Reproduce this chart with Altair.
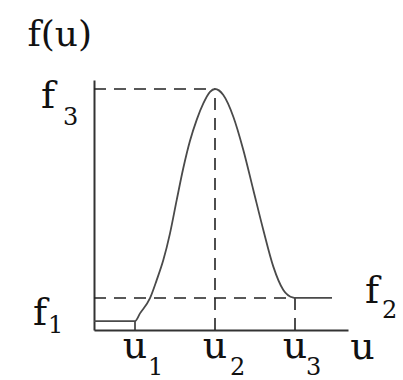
import altair as alt
import pandas as pd

# Landmarks on the u axis and the three levels of f(u)
u_marks = [1.0, 2.0, 3.0]          # u1, u2, u3
u_subs = ["1", "2", "3"]
f_levels = [0.037, 0.133, 1.0]     # f1, f2, f3
f_subs = ["1", "2", "3"]

# Axis extent
u_range = [0.4875, 3.6625]
f_range = [0.0, 1.0373]

# Traced profile of f(u): flat at f1, bump up to f3 at u2, down to f2 at u3, flat after
curve_u = [0.4875, 1.0, 1.0625, 1.1875, 1.271, 1.354, 1.4375, 1.521, 1.604,
           1.6875, 1.771, 1.854, 1.9375, 2.0, 2.104, 2.229, 2.354, 2.479,
           2.604, 2.729, 2.854, 2.979, 3.0, 3.4625]
curve_f = [0.037, 0.037, 0.069, 0.132, 0.207, 0.290, 0.401, 0.539, 0.672,
           0.785, 0.872, 0.940, 0.988, 1.0, 0.975, 0.885, 0.747, 0.581,
           0.415, 0.263, 0.166, 0.134, 0.133, 0.133]

u1, u2, u3 = u_marks
f1, f2, f3 = f_levels

SERIF = "DejaVu Serif"
INK = "#111111"

xs = alt.Scale(domain=u_range, nice=False, zero=False)
ys = alt.Scale(domain=f_range, nice=False, zero=False)

x_axis = alt.Axis(
    title="u", labels=False, ticks=False, grid=False,
    domainColor="#333333", domainWidth=2,
    titleFont=SERIF, titleFontSize=38, titleFontWeight="normal", titleColor=INK,
    titleX=268, titleY=28, titleAlign="center", titleBaseline="alphabetic",
)
y_axis = alt.Axis(
    title="f(u)", labels=False, ticks=False, grid=False,
    domainColor="#333333", domainWidth=2,
    titleFont=SERIF, titleFontSize=36, titleFontWeight="normal", titleColor=INK,
    titleAngle=0, titleX=-67, titleY=-35, titleAlign="left", titleBaseline="alphabetic",
)


def X(field):
    return alt.X(field, type="quantitative", scale=xs, axis=x_axis)


def Y(field):
    return alt.Y(field, type="quantitative", scale=ys, axis=y_axis)


curve_df = pd.DataFrame({"u": curve_u, "f": curve_f, "i": range(len(curve_u))})
curve = alt.Chart(curve_df).mark_line(
    color="#4a4a4a", strokeWidth=1.8, interpolate="monotone"
).encode(x=X("u"), y=Y("f"), order="i:Q")

# Dashed guide lines
h_df = pd.DataFrame({"a": [u_range[0], u_range[0]], "b": [u2, u3], "f": [f3, f2]})
v_df = pd.DataFrame({"u": [u2, u3], "a": [0.0, 0.0], "b": [f3, f2]})
dash = dict(color="#222222", strokeWidth=1.6, strokeDash=[12, 8])
h_lines = alt.Chart(h_df).mark_rule(**dash).encode(x=X("a"), x2="b", y=Y("f"))
v_lines = alt.Chart(v_df).mark_rule(**dash).encode(x=X("u"), y=Y("a"), y2="b")

# Short solid mark under the end of the f1 plateau
tick_df = pd.DataFrame({"u": [u1], "a": [0.0], "b": [f1]})
tick = alt.Chart(tick_df).mark_rule(color="#333333", strokeWidth=1.6).encode(
    x=X("u"), y=Y("a"), y2="b")


def label(text, u, f, dx, dy, size, align="left"):
    df = pd.DataFrame({"u": [u], "f": [f], "t": [text]})
    return alt.Chart(df).mark_text(
        font=SERIF, fontSize=size, color=INK, align=align,
        baseline="alphabetic", dx=dx, dy=dy,
    ).encode(x=X("u"), y=Y("f"), text="t:N")


labels = [
    # u1, u2, u3 below the axis
    label("u", u1, 0.0, 0, 28, 38, "center"),
    label(u_subs[0], u1, 0.0, 13, 45, 24),
    label("u", u2, 0.0, 0, 28, 38, "center"),
    label(u_subs[1], u2, 0.0, 15, 45, 24),
    label("u", u3, 0.0, 0, 28, 38, "center"),
    label(u_subs[2], u3, 0.0, 11, 45, 24),
    # f3 and f1 left of the axis, f2 at the right end
    label("f", u_range[0], f3, -39, 19, 38, "right"),
    label(f_subs[2], u_range[0], f3, -31, 36, 24),
    label("f", u_range[0], f1, -47, 4, 38, "right"),
    label(f_subs[0], u_range[0], f1, -46, 12, 24),
    label("f", u_range[1], f2, 17, 5, 38),
    label(f_subs[1], u_range[1], f2, 34, 20, 24),
]

chart = alt.layer(h_lines, v_lines, tick, curve, *labels).properties(
    width=254, height=250,
    padding={"left": 94, "top": 80, "right": 55, "bottom": 50},
    autosize=alt.AutoSizeParams(type="none"),
    background="white",
).configure_view(stroke=None)

chart.save("out.html", embed_options={"renderer": "svg", "actions": False})
